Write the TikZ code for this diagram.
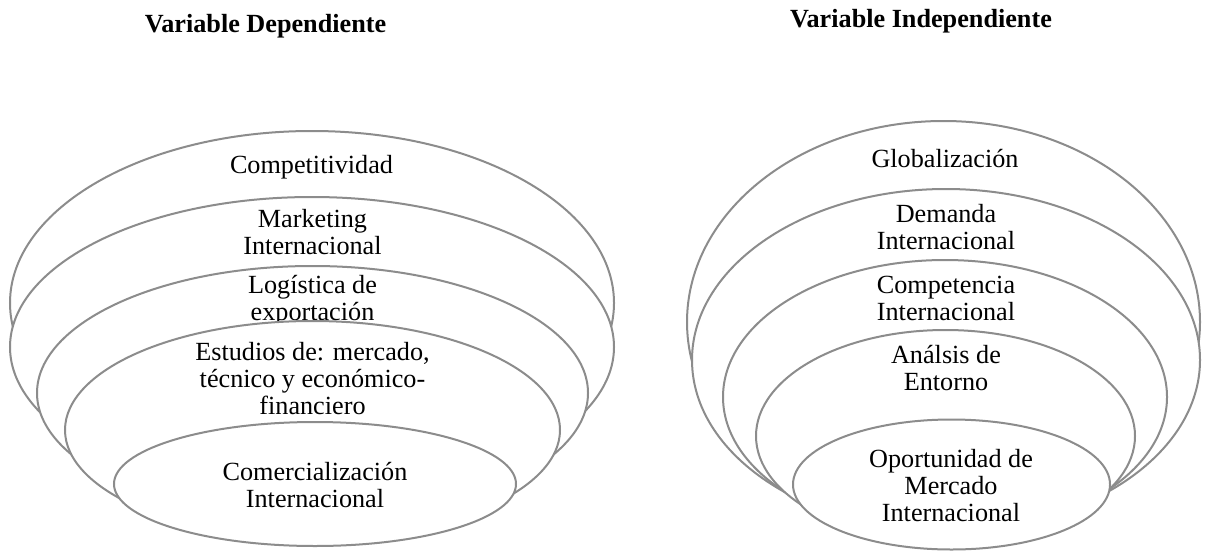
\documentclass[tikz,border=0pt]{standalone}
\usepackage{fontspec}
\setmainfont{Liberation Serif}
\usetikzlibrary{shapes.geometric}
\definecolor{linegray}{RGB}{140,140,140}
\newcommand{\bodyfnt}{\fontsize{13.1}{13.5}\selectfont}
\tikzset{
  ring/.style 2 args={ellipse, draw=linegray, fill=white, line width=1pt,
    inner sep=0pt, outer sep=0pt, minimum width=#1pt, minimum height=#2pt},
  lbl/.style={anchor=base, inner sep=0pt, font=\bodyfnt, text=black},
  ttl/.style={anchor=base, inner sep=0pt, font=\bodyfnt\bfseries, text=black}
}
\begin{document}
\begin{tikzpicture}[x=0.5pt,y=-0.5pt]
\useasboundingbox (0,0) rectangle (1208,551);
% titles
\node[ttl] (tdep) at (265.5,33) {Variable Dependiente};
\node[ttl] (tind) at (921,28) {Variable Independiente};
% left group
\node[ring={302}{172}] (L1) at (312,303) {};
\node[lbl] (L1a) at (311.5,173) {Competitividad};
\node[ring={302}{150}] (L2) at (312,347) {};
\node[lbl] (L2a) at (312.5,227) {Marketing};
\node[lbl] (L2b) at (312.5,254) {Internacional};
\node[ring={275.5}{127}] (L3) at (312.5,393) {};
\node[lbl] (L3a) at (312.5,293) {Logística de};
\node[lbl] (L3b) at (312.5,320) {exportación};
\node[ring={247.5}{109}] (L4) at (312.5,430) {};
\node[lbl] (L4a) at (312.5,360) {Estudios de: mercado,};
\node[lbl] (L4b) at (312.5,387) {técnico y económico-};
\node[lbl] (L4c) at (312.5,414) {financiero};
\node[ring={201}{62}] (L5) at (315,484) {};
\node[lbl] (L5a) at (315,480) {Comercialización};
\node[lbl] (L5b) at (315,507) {Internacional};
% right group
\node[ring={256.5}{201}] (R1) at (943.5,322) {};
\node[lbl] (R1a) at (945,167) {Globalización};
\node[ring={254}{171}] (R2) at (946,360) {};
\node[lbl] (R2a) at (946,222) {Demanda};
\node[lbl] (R2b) at (946,249) {Internacional};
\node[ring={222}{137}] (R3) at (945,397) {};
\node[lbl] (R3a) at (946,293) {Competencia};
\node[lbl] (R3b) at (946,320) {Internacional};
\node[ring={189.5}{106}] (R4) at (945.5,436) {};
\node[lbl] (R4a) at (946,363) {Análsis de};
\node[lbl] (R4b) at (946,390) {Entorno};
\node[ring={158.5}{65}] (R5) at (951.5,484.5) {};
\node[lbl] (R5a) at (951,467) {Oportunidad de};
\node[lbl] (R5b) at (951,494) {Mercado};
\node[lbl] (R5c) at (951,521) {Internacional};
\end{tikzpicture}
\end{document}
